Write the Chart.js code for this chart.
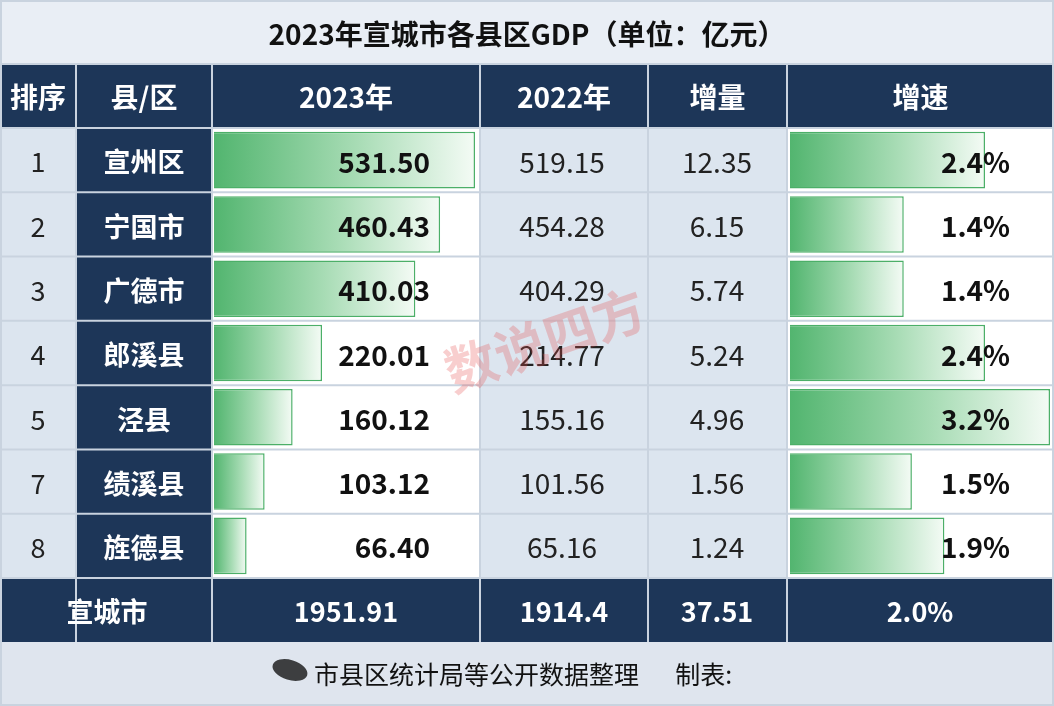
<!DOCTYPE html>
<html><head><meta charset="utf-8">
<script src="https://cdn.jsdelivr.net/npm/chart.js@4"></script>
<style>html,body{margin:0;padding:0;background:#fff}#w{width:1054px;height:706px}</style>
</head><body><div id="w"><canvas id="c"></canvas></div>
<script>
const title = '2023年宣城市各县区GDP（单位：亿元）';
const headers = ['排序','县/区','2023年','2022年','增量','增速'];
const ranks = ['1','2','3','4','5','7','8'];
const regions = ['宣州区','宁国市','广德市','郎溪县','泾县','绩溪县','旌德县'];
const gdp2023 = [531.50,460.43,410.03,220.01,160.12,103.12,66.40];
const gdp2022 = [519.15,454.28,404.29,214.77,155.16,101.56,65.16];
const increase = [12.35,6.15,5.74,5.24,4.96,1.56,1.24];
const growth = [2.4,1.4,1.4,2.4,3.2,1.5,1.9];
const totalRow = ['宣城市','1951.91','1914.4','37.51','2.0%'];
const footer = '市县区统计局等公开数据整理　  制表:';

const W=1054,H=706;
const colX=[0,76,212,480,648,787,1054];
const TOP=128,BOT=578,RH=(BOT-TOP)/7;
const NAVY='#1d3658', LIGHT='#dce5ef', FONT='"Noto Sans CJK SC","Noto Sans",sans-serif';
const k1=261/531.5, k2=260/3.2;

function grad(ctx,scale,v){
  const c=ctx.chart.ctx;
  if(!scale) return '#8fd0a0';
  const x0=scale.getPixelForValue(0), x1=scale.getPixelForValue(v);
  if(!isFinite(x0)||!isFinite(x1)||x0===x1) return '#8fd0a0';
  const g=c.createLinearGradient(x0,0,x1,0);
  g.addColorStop(0,'#52b56f');g.addColorStop(0.55,'#a8dcb5');g.addColorStop(1,'#f4fbf5');
  return g;
}
const bg={id:'bg',beforeDatasetsDraw(chart){
  const c=chart.ctx;c.save();
  c.fillStyle='#e9eef5';c.fillRect(0,0,W,64);
  c.fillStyle=NAVY;c.fillRect(0,64,W,64);c.fillRect(0,BOT,W,64);
  c.fillStyle='#dfe5ee';c.fillRect(0,642,W,64);
  for(let r=0;r<7;r++){const y=TOP+r*RH;
    for(let i=0;i<6;i++){
      c.fillStyle=i==1?NAVY:((i==2||i==5)?'#ffffff':LIGHT);
      c.fillRect(colX[i],y,colX[i+1]-colX[i],RH);
    }}
  c.strokeStyle='#c9d3df';c.lineWidth=2;
  for(let r=0;r<=7;r++){c.beginPath();c.moveTo(0,TOP+r*RH);c.lineTo(W,TOP+r*RH);c.stroke();}
  for(let i=1;i<6;i++){c.beginPath();c.moveTo(colX[i],64);c.lineTo(colX[i],642);c.stroke();}
  c.beginPath();c.moveTo(0,64);c.lineTo(W,64);c.stroke();
  c.strokeRect(1,1,W-2,H-2);
  c.restore();
}, afterDatasetsDraw(chart){
  const c=chart.ctx;c.save();c.textBaseline='middle';
  const y=chart.scales.y;
  c.fillStyle='#111';c.font='bold 28px '+FONT;c.textAlign='center';
  c.fillText(title,W/2,34);
  c.fillStyle='#fff';
  headers.forEach((h,i)=>c.fillText(h,(colX[i]+colX[i+1])/2,97));
  regions.forEach((r,i)=>{const yy=y.getPixelForValue(i)+2;
    c.font='27px '+FONT;c.fillStyle='#222';c.textAlign='center';
    c.fillText(ranks[i],38,yy);
    c.fillStyle='#fff';c.font='bold 27px '+FONT;c.fillText(r,144,yy);
    c.fillStyle='#111';c.textAlign='right';c.font='bold 28px '+FONT;
    c.fillText(gdp2023[i].toFixed(2),430,yy);
    c.fillText(growth[i].toFixed(1)+'%',1010,yy);
    c.font='28px '+FONT;c.fillStyle='#222';c.textAlign='center';
    c.fillText(gdp2022[i].toFixed(2),562,yy);
    c.fillText(increase[i].toFixed(2),717,yy);
  });
  c.fillStyle='#fff';c.font='bold 27px '+FONT;c.textAlign='center';
  const ty=612;
  c.fillText(totalRow[0],107,ty);c.fillText(totalRow[1],346,ty);c.fillText(totalRow[2],564,ty);
  c.fillText(totalRow[3],717,ty);c.fillText(totalRow[4],920,ty);
  c.fillStyle='#111';c.font='25px '+FONT;c.textAlign='left';
  c.fillText(footer,314,674);
  c.fillStyle='rgba(20,20,20,0.8)';c.beginPath();c.ellipse(290,670,18,10,0.3,0,Math.PI*2);c.fill();
  c.translate(545,340);c.rotate(-0.33);c.fillStyle='rgba(230,80,80,0.28)';c.font='bold 52px "Noto Sans CJK SC",serif';c.textAlign='center';
  c.fillText('数说四方',0,0);
  c.restore();
}};
new Chart(document.getElementById('c'),{
  type:'bar',
  data:{labels:regions,datasets:[
    {data:gdp2023,xAxisID:'x1',barPercentage:0.88,categoryPercentage:1,
     backgroundColor:ctx=>grad(ctx,ctx.chart.scales.x1,gdp2023[ctx.dataIndex]),borderColor:'#4caf68',borderWidth:1.5,grouped:false},
    {data:growth,xAxisID:'x2',barPercentage:0.88,categoryPercentage:1,
     backgroundColor:ctx=>grad(ctx,ctx.chart.scales.x2,growth[ctx.dataIndex]),borderColor:'#4caf68',borderWidth:1.5,grouped:false}
  ]},
  options:{indexAxis:'y',responsive:true,maintainAspectRatio:false,animation:false,
    layout:{padding:{top:TOP,bottom:H-BOT,left:0,right:0}},
    plugins:{legend:{display:false},tooltip:{enabled:false}},
    scales:{
      y:{display:false},
      x1:{display:false,min:-214/k1,max:(W-214)/k1},
      x2:{display:false,min:-790/k2,max:(W-790)/k2}
    }},
  plugins:[bg]
});
</script></body></html>
